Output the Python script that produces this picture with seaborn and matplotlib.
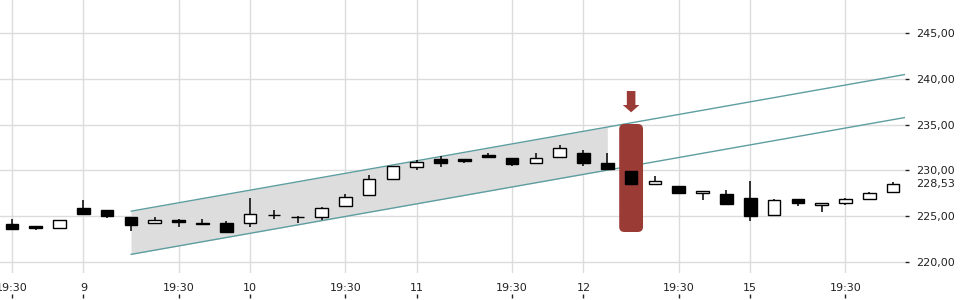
import numpy as np
import pandas as pd
import matplotlib
matplotlib.use("Agg")
import matplotlib.pyplot as plt
import matplotlib.transforms as mtransforms
import seaborn as sns
from matplotlib.patches import FancyBboxPatch, FancyArrow
from matplotlib.ticker import FuncFormatter, FixedLocator

# ---- data (hourly candles, 7 per trading day: 15:30 ... 21:30) ----
opens = [224.08, 223.90, 223.71, 225.83, 225.61, 224.85, 224.19, 224.58, 224.20, 224.19,
         224.19, 225.14, 224.89, 224.85, 226.05, 227.26, 229.01, 230.32, 231.20, 231.23,
         231.64, 231.34, 230.76, 231.42, 231.89, 230.80, 229.88, 228.53, 228.28, 227.48,
         227.40, 226.96, 225.07, 226.82, 226.16, 226.45, 226.82, 227.58]
highs = [224.66, 223.92, 224.52, 226.74, 225.63, 224.87, 224.88, 224.62, 224.63, 224.41,
         226.93, 225.61, 224.99, 226.01, 227.40, 229.51, 230.50, 231.12, 231.56, 231.25,
         231.89, 231.36, 231.89, 232.77, 232.22, 231.86, 229.90, 229.37, 228.30, 227.75,
         227.84, 228.82, 226.85, 226.84, 226.40, 226.96, 227.62, 228.71]
lows = [223.58, 223.49, 223.60, 225.18, 224.80, 223.38, 224.17, 223.75, 223.98, 223.27,
        223.82, 224.69, 224.19, 224.55, 226.03, 227.24, 228.99, 230.06, 230.32, 230.83,
        231.43, 230.50, 230.74, 231.40, 230.50, 230.03, 228.42, 228.51, 227.52, 226.74,
        226.32, 224.47, 225.05, 226.12, 225.46, 226.19, 226.80, 227.56]
closes = [223.60, 223.71, 224.52, 225.24, 224.96, 223.97, 224.58, 224.37, 224.17, 223.27,
          225.18, 225.12, 224.87, 225.83, 227.10, 229.01, 230.47, 230.87, 230.83, 231.05,
          231.45, 230.72, 231.34, 232.40, 230.83, 230.17, 228.53, 228.79, 227.54, 227.73,
          226.34, 225.02, 226.71, 226.38, 226.38, 226.82, 227.48, 228.53]

tick_index = [0, 3, 7, 10, 14, 17, 21, 24, 28, 31, 35]
tick_labels = ["19:30", "9", "19:30", "10", "19:30", "11", "19:30", "12", "19:30", "15", "19:30"]
y_ticks = [220, 225, 230, 235, 240, 245]

# trend channel (candle index, price)
channel_x = [5, 37.5]
channel_upper = [225.52, 240.49]
channel_lower = [220.79, 235.78]
shade_end = 25

signal_index = 26
signal_top, signal_bottom = 235.07, 223.24
arrow_top, arrow_bottom = 238.68, 236.35
last_price = 228.53

# ---- style ----
sns.set_style("white")
plt.rcParams["font.family"] = ["DejaVu Sans"]
grid_c = "#dcdcdc"
text_c = "#222222"
teal = "#5f9ea0"
red = "#9b3b35"

fig = plt.figure(figsize=(9.6, 3.0), dpi=100)
ax = fig.add_axes([0, 27 / 300, 905 / 960, 273 / 300])
ax.set_xlim(-0.5, 37.5)
ax.set_ylim(218.75, 248.65)

for s in ax.spines.values():
    s.set_visible(False)

# grid
ax.set_xticks(tick_index)
ax.set_xticklabels(tick_labels)
ax.set_yticks(y_ticks)
ax.grid(True, color=grid_c, lw=1.0)
ax.set_axisbelow(True)

# channel shading and lines
xs = np.array([channel_x[0], shade_end])
ax.fill_between(xs, np.interp(xs, channel_x, channel_lower), np.interp(xs, channel_x, channel_upper),
                color="#dddddd", lw=0, zorder=1)
ch = pd.DataFrame({"x": channel_x * 2,
                   "y": channel_upper + channel_lower,
                   "line": ["upper"] * 2 + ["lower"] * 2})
sns.lineplot(data=ch, x="x", y="y", units="line", estimator=None, color=teal, lw=1.0,
             ax=ax, zorder=2)
ax.set_xlabel("")
ax.set_ylabel("")

# signal highlight
w = 1.0
ax.add_patch(FancyBboxPatch((signal_index - w / 2, signal_bottom), w, signal_top - signal_bottom,
                            boxstyle="round,pad=0,rounding_size=0.22", mutation_aspect=2.6,
                            facecolor=red, edgecolor="none", zorder=2.5))
ax.add_patch(FancyArrow(signal_index, arrow_top, 0, arrow_bottom - arrow_top, width=0.36,
                        head_width=0.70, head_length=0.8, length_includes_head=True,
                        facecolor=red, edgecolor="none", zorder=2.5))

# candles
x = np.arange(len(opens))
o = np.array(opens); c = np.array(closes)
ax.vlines(x, lows, highs, color="black", lw=1.1, zorder=3)
faces = ["black" if cc < oo else "white" for oo, cc in zip(o, c)]
heights = np.maximum(np.abs(c - o), 0.001)
ax.bar(x, heights, bottom=np.minimum(o, c), width=0.53, color=faces,
       edgecolor="black", linewidth=1.0, zorder=4)

# axes ticks
ax.yaxis.tick_right()
ax.tick_params(axis="y", which="both", direction="out", length=3, width=1, color=text_c,
               pad=5, labelsize=8, labelcolor=text_c, left=False, right=True)
ax.yaxis.set_major_formatter(FuncFormatter(lambda v, p: f"{v:.2f}".replace(".", ",")))
ax.tick_params(axis="x", length=0, pad=7, labelsize=8, labelcolor=text_c)

sec = ax.secondary_xaxis(-25 / 273)
sec.set_xticks(tick_index)
sec.tick_params(axis="x", direction="in", length=3, width=1, color=text_c, labelbottom=False)
for s in sec.spines.values():
    s.set_visible(False)

ax.annotate(f"{last_price:.2f}".replace(".", ","), xy=(1.0, last_price),
            xycoords=("axes fraction", "data"), xytext=(8.3, 0), textcoords="offset points",
            ha="left", va="center", fontsize=8, color=text_c, annotation_clip=False)

fig.savefig("out.png", dpi=100)
